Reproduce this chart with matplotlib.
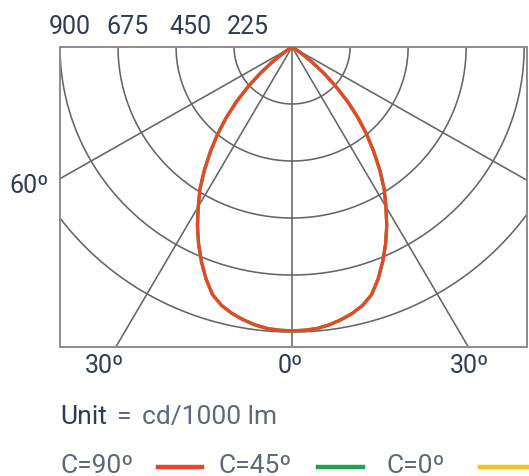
import numpy as np
import matplotlib
matplotlib.use("Agg")
import matplotlib.pyplot as plt

plt.rcParams['font.family'] = ['Roboto', 'DejaVu Sans']

# Luminous intensity (cd/1000 lm) against angle from the downward axis
gamma_deg = [0, 2.5, 5, 7.5, 10, 12.5, 15, 17.5, 20, 22.5, 25, 27.5, 30,
             32.5, 35, 37.5, 40, 42.5, 45, 47.5, 50, 52.5, 55, 57.5, 60]
c90 = [1120, 1119, 1115, 1106, 1093, 1077, 1056, 1025, 975, 918, 858, 795, 728,
       665, 593, 520, 450, 378, 305, 230, 160, 97, 45, 12, 0]
c45 = list(c90)
c0 = list(c90)

ring_values = [225, 450, 675, 900, 1125]
ring_labels = ["900", "675", "450", "225"]
spoke_angles = [-60, -30, 0, 30, 60]
angle_labels = ["60º", "30º", "0º", "30º"]
series_names = ["C=90º", "C=45º", "C=0º"]
series_colors = ["#e8472b", "#1fa24b", "#f6c21c"]

W, H = 529, 477
fig = plt.figure(figsize=(W / 100, H / 100), dpi=100)
ax = fig.add_axes([60 / W, 1 - 348 / H, 467 / W, 300 / H])
ax.set_xlim(-900, 911)
ax.set_ylim(-1184, 0)
ax.set_aspect('auto')
ax.set_xticks([])
ax.set_yticks([])
for sp in ax.spines.values():
    sp.set_color('#8c8c8c')
    sp.set_linewidth(1.4)

grid_kw = dict(color='#656565', lw=1.15, zorder=1)
t = np.linspace(-np.pi / 2, np.pi / 2, 400)
for r in ring_values:
    ax.plot(r * np.sin(t), -r * np.cos(t), **grid_kw)
for a in spoke_angles:
    ar = np.radians(a)
    ax.plot([0, 3000 * np.sin(ar)], [0, -3000 * np.cos(ar)], **grid_kw)


def polar_curve(angles, values):
    g = np.radians(np.concatenate([-np.array(angles[::-1]), np.array(angles[1:])]))
    v = np.concatenate([np.array(values[::-1]), np.array(values[1:])])
    return v * np.sin(g), -v * np.cos(g)


for vals, col, z in [(c0, series_colors[2], 2), (c45, series_colors[1], 3),
                     (c90, series_colors[0], 4)]:
    x, y = polar_curve(gamma_deg, vals)
    ax.plot(x, y, color=col, lw=2.3, zorder=z, solid_joinstyle='round')

dark = '#2f3c55'
soft = '#5e687a'
fs = 18


def ftext(px, py, s, **kw):
    fig.text(px / W, 1 - py / H, s, fontsize=kw.pop('fontsize', fs), **kw)


# Intensity scale across the top
for px, s in zip([70, 128, 190, 248], ring_labels):
    ftext(px, 27, s, ha='center', va='center', color=dark)

# Angle labels
ftext(29, 186, angle_labels[0], ha='center', va='center', color=dark)
for px, s in zip([105, 290, 470], angle_labels[1:]):
    ftext(px, 366, s, ha='center', va='center', color=dark)

# Unit line
ftext(60, 417, "Unit", ha='left', va='center', color=dark, fontsize=19)
ftext(117, 417, "=", ha='left', va='center', color=soft, fontsize=19)
ftext(142, 417, "cd/1000 lm", ha='left', va='center', color=soft, fontsize=19)

# Legend row
legend_text_x = [60, 218, 387]
legend_line_x = [(158, 202), (318, 363), (480, 535)]
for name, col, tx, (x0, x1) in zip(series_names, series_colors, legend_text_x, legend_line_x):
    ftext(tx, 466, name, ha='left', va='center', color=soft, fontsize=19)
    fig.add_artist(plt.Line2D([x0 / W, x1 / W], [1 - 468 / H, 1 - 468 / H],
                              color=col, lw=3.2, transform=fig.transFigure))

fig.savefig('out.png', dpi=100)
